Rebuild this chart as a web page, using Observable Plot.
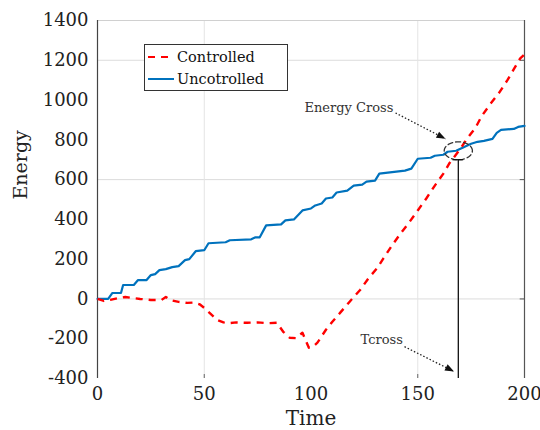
<!DOCTYPE html>
<html>
<head>
<meta charset="utf-8">
<script src="https://cdn.jsdelivr.net/npm/d3@7"></script>
<script src="https://cdn.jsdelivr.net/npm/@observablehq/plot@0.6"></script>
<style>
  html, body { margin: 0; padding: 0; background: #fff; }
  #wrap { position: relative; width: 540px; height: 430px; }
  #legend { position: absolute; left: 144px; top: 44px; width: 142px; height: 45px;
    border: 1px solid #333; background: #fff; font-family: "DejaVu Serif", serif; font-size: 14.5px; color: #111; }
  #legend .row { display: flex; align-items: center; height: 21px; margin-top: 1px; }
  #legend svg { margin-left: 3px; margin-right: 3px; }
</style>
</head>
<body>
<div id="wrap"></div>
<script>
// ---- data ----
const uncontrolledT = [0,5,7,11,12,17,19,23,25,27,29,32,35,38,41,43,46,50,52,60,62,72,74,76,79,86,88,92,96,100,102,105,107,110,112,117,120,124,126,130,132,140,144,147,150,156,158,162,164,168,171,175,178,181,185,187,189,195,197,200];
const uncontrolledE = [0,0,30,30,70,70,95,95,120,125,145,150,160,165,195,200,240,245,280,285,295,300,310,310,370,375,395,400,445,455,470,480,505,510,535,545,570,575,590,595,630,640,645,655,705,710,720,725,740,745,760,780,790,795,805,835,850,855,865,870];
const controlledT = [0,3,6,10,13,16,20,25,30,32,34,38,42,45,48,50,53,56,59,61,65,70,75,80,84,87,90,93,96,99,101,103,107,110,114,118,123,127,131,134,138,142,146,150,154,158,162,165,170,173,177,180,184,188,192,195,198,200];
const controlledE = [0,-10,-5,5,10,5,0,-5,-5,10,-5,-15,-20,-18,-28,-45,-75,-105,-118,-122,-118,-120,-118,-122,-120,-165,-195,-197,-170,-245,-240,-220,-155,-115,-65,-15,45,105,155,205,270,330,385,445,505,570,630,685,755,805,860,920,980,1035,1100,1155,1210,1230];
const yTicks = [-400,-200,0,200,400,600,800,1000,1200,1400];
const xTicks = [0,50,100,150,200];
const gridY = [0,600,1200];
const gridX = [50,150];
const seriesNames = ["Controlled","Uncotrolled"];
// annotations
const tCross = 169;
const crossE = 745;
const annotations = [
  {label: "Energy Cross", x: 138.6, y: 962, x1: 139.6, y1: 935, x2: 163, y2: 805},
  {label: "Tcross", x: 143, y: -205, x1: 143.8, y1: -240, x2: 167, y2: -365}
];

const controlled = controlledT.map((t,i) => ({t, e: controlledE[i]}));
const uncontrolled = uncontrolledT.map((t,i) => ({t, e: uncontrolledE[i]}));
const ellipse = d3.range(0, 61).map(i => {
  const a = i / 60 * 2 * Math.PI;
  return {t: tCross + 6.6 * Math.cos(a), e: crossE + 45 * Math.sin(a)};
});

const serif = "DejaVu Serif, serif";

const arrowHead = {
  draw(context, l) {
    context.moveTo(0, -l);
    context.lineTo(-3.5, 0);
    context.lineTo(3.5, 0);
    context.closePath();
  }
};

const plot = Plot.plot({
  width: 540,
  height: 430,
  marginLeft: 97,
  marginRight: 16,
  marginTop: 20,
  marginBottom: 52,
  x: {type: "linear", domain: [0, 200]},
  y: {type: "linear", domain: [-400, 1400]},
  style: {background: "#fff"},
  marks: [
    Plot.ruleY(gridY, {stroke: "#dcdcdc", strokeWidth: 1}),
    Plot.ruleX(gridX, {stroke: "#e4e4e4", strokeWidth: 1}),
    Plot.ruleY([1400], {stroke: "#d0d0d0", strokeWidth: 1.2}),
    Plot.ruleX([0], {stroke: "#444", strokeWidth: 1.2}),
    Plot.ruleX([200], {stroke: "#555", strokeWidth: 1.2}),
    Plot.ruleY(gridY, {x1: 198, x2: 200, stroke: "#555"}),
    Plot.axisY({ticks: yTicks, tickSize: 0, tickPadding: 9, tickFormat: d => String(d), fontSize: 18, fontFamily: serif, fill: "#222", label: null}),
    Plot.axisX({ticks: xTicks, tickSize: 0, tickPadding: 9, tickFormat: d => String(d), fontSize: 18, fontFamily: serif, fill: "#222", label: null}),
    Plot.ruleX(gridX, {y1: -400, y2: -380, stroke: "#666"}),
    Plot.text(["Time"], {frameAnchor: "bottom", dy: 40, fontSize: 20, fontFamily: serif, fill: "#222", lineAnchor: "middle"}),
    Plot.text(["Energy"], {frameAnchor: "left", dx: -77, rotate: -90, fontSize: 19, fontFamily: serif, fill: "#222", lineAnchor: "middle"}),
    Plot.line(uncontrolled, {x: "t", y: "e", stroke: "#0072BD", strokeWidth: 2.2}),
    Plot.line(controlled, {x: "t", y: "e", stroke: "#ff0000", strokeWidth: 2.4, strokeDasharray: "7,6", strokeLinecap: "butt"}),
    Plot.line(ellipse, {x: "t", y: "e", stroke: "#333", strokeWidth: 1.3, strokeDasharray: "5,3"}),
    Plot.ruleX([tCross], {y1: -400, y2: 700, stroke: "#111", strokeWidth: 1.3}),
    Plot.ruleY([700], {x1: tCross - 2.5, x2: tCross + 2.5, stroke: "#111", strokeWidth: 1.3}),
    Plot.link(annotations, {x1: "x1", y1: "y1", x2: "x2", y2: "y2", stroke: "#222", strokeWidth: 1.3, strokeDasharray: "1.5,2"}),
    Plot.vector(annotations, {x: "x2", y: "y2", length: 9, rotate: 117, anchor: "end", shape: arrowHead, fill: "#111", stroke: "none"}),
    Plot.text(annotations, {x: "x", y: "y", text: "label", textAnchor: "end", fontSize: 13, fontFamily: serif, fill: "#333", lineAnchor: "middle"})
  ]
});

const wrap = document.getElementById("wrap");
wrap.appendChild(plot);

const legend = document.createElement("div");
legend.id = "legend";
const styles = [{stroke: "#ff0000", dash: "7,6"}, {stroke: "#0072BD", dash: null}];
seriesNames.forEach((name, i) => {
  const row = document.createElement("div");
  row.className = "row";
  const s = styles[i];
  row.innerHTML = `<svg width="26" height="10"><line x1="0" y1="5" x2="26" y2="5" stroke="${s.stroke}" stroke-width="2" ${s.dash ? `stroke-dasharray="${s.dash}"` : ""}/></svg><span>${name}</span>`;
  legend.appendChild(row);
});
wrap.appendChild(legend);
</script>
</body>
</html>
